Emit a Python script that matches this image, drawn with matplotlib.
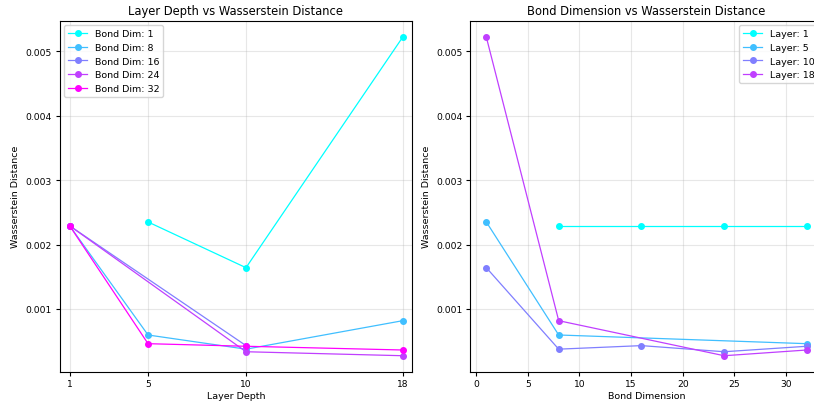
import numpy as np
import matplotlib
matplotlib.use("Agg")
import matplotlib.pyplot as plt

layers = [1, 5, 10, 18]
bond_dims = [1, 8, 16, 24, 32]
nan = np.nan
# rows: layer depth, columns: bond dimension
w_layer1 = [nan, 0.00229, 0.00229, 0.00229, 0.00229]
w_layer5 = [0.00235, 0.000595, nan, nan, 0.00046]
w_layer10 = [0.00164, 0.000375, 0.00043, 0.000335, 0.00042]
w_layer18 = [0.00522, 0.000817, nan, 0.000273, 0.000362]
W = np.array([w_layer1, w_layer5, w_layer10, w_layer18])

cmap = plt.get_cmap("cool")
colors = [cmap(i / 4) for i in range(5)]

fig = plt.figure(figsize=(8.14, 4.06), dpi=100)
W_px, H_px = 814, 406
bottom = (H_px - 372.7) / H_px
height = 351 / H_px
ax1 = fig.add_axes([59.7 / W_px, bottom, 352.6 / W_px, height])
ax2 = fig.add_axes([470.3 / W_px, bottom, 352.6 / W_px, height])

MS, LW = 4.0, 0.9
for j, b in enumerate(bond_dims):
    col = W[:, j]
    m = ~np.isnan(col)
    ax1.plot(np.array(layers)[m], col[m], marker="o", markersize=MS, lw=LW,
             color=colors[j], label=f"Bond Dim: {b}")
ax1.set_xticks(layers)
ax1.set_xlim(0.49, 18.49)
ax1.set_xlabel("Layer Depth", fontsize=6.8, labelpad=2)
ax1.set_ylabel("Wasserstein Distance", fontsize=6.8)
ax1.set_title("Layer Depth vs Wasserstein Distance", fontsize=8.3, pad=4.5)
ax1.legend(loc="upper left", fontsize=6.8)

for i, l in enumerate(layers):
    row = W[i, :]
    m = ~np.isnan(row)
    ax2.plot(np.array(bond_dims)[m], row[m], marker="o", markersize=MS, lw=LW,
             color=colors[i], label=f"Layer: {l}")
ax2.set_xlabel("Bond Dimension", fontsize=6.8, labelpad=2)
ax2.set_ylabel("Wasserstein Distance", fontsize=6.8)
ax2.set_title("Bond Dimension vs Wasserstein Distance", fontsize=8.3, pad=4.5)
ax2.legend(loc="upper right", fontsize=6.8)

for ax in (ax1, ax2):
    ax.grid(True, alpha=0.3)
    ax.tick_params(labelsize=6.6, length=3, pad=2.5)
    ax.set_ylim(0.000025, 0.005475)

fig.savefig("out.png", dpi=100)
